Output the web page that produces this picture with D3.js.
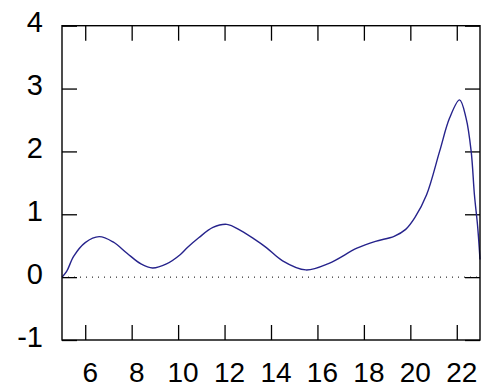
<!DOCTYPE html>
<html>
<head>
<meta charset="utf-8">
<script src="https://cdn.jsdelivr.net/npm/d3@7"></script>
<style>
  body { margin: 0; background: #fff; }
  svg { display: block; }
</style>
</head>
<body>
<div id="chart"></div>
<script>
"use strict";

// curve
var xValues = [5.0, 5.2, 5.5, 6.0, 6.6, 7.2, 7.8, 8.4, 8.9, 9.5, 10.1, 10.4, 10.9, 11.5, 12.1,
               12.7, 13.3, 13.8, 14.5, 15.5, 16.5, 17.7, 18.5, 19.3, 19.8, 20.2, 20.7, 21.26,
               21.69, 22.12, 22.4, 22.62, 22.76, 22.9, 23.0];
var yValues = [0.0, 0.09, 0.33, 0.55, 0.645, 0.56, 0.38, 0.21, 0.145, 0.21, 0.36, 0.47, 0.63, 0.79, 0.84,
               0.74, 0.6, 0.47, 0.26, 0.115, 0.22, 0.46, 0.57, 0.65, 0.76, 0.95, 1.31, 2.0,
               2.53, 2.82, 2.53, 2.0, 1.31, 0.8, 0.28];
var xTicks = [6, 8, 10, 12, 14, 16, 18, 20, 22];
var yTicks = [-1, 0, 1, 2, 3, 4];

var W = 500, H = 392;
var margin = {top: 25.7, right: 20, bottom: 52, left: 62},
    width = W - margin.left - margin.right,
    height = H - margin.top - margin.bottom;

var x = d3.scaleLinear().domain([5, 23]).range([0, width]);
var y = d3.scaleLinear().domain([-1, 4]).range([height, 0]);

var svg = d3.select("#chart").append("svg")
    .attr("width", W)
    .attr("height", H)
  .append("g")
    .attr("transform", "translate(" + margin.left + "," + margin.top + ")");

var font = "'Liberation Sans', Arial, sans-serif";

// dotted zero line
svg.append("line")
    .attr("x1", 0).attr("x2", width)
    .attr("y1", y(0)).attr("y2", y(0))
    .attr("stroke", "#000")
    .attr("stroke-width", 1)
    .attr("stroke-dasharray", "1,5");

// axes, ticks pointing inward
var bottom = svg.append("g")
    .attr("transform", "translate(0," + height + ")")
    .call(d3.axisBottom(x).tickValues(xTicks).tickSize(-15).tickSizeOuter(0).tickFormat(String));
bottom.selectAll(".tick text")
    .attr("y", 42).attr("dy", null).attr("dx", 4.5)
    .attr("font-size", 28).attr("font-family", font).attr("fill", "#000");

svg.append("g")
    .call(d3.axisTop(x).tickValues(xTicks).tickSize(-15).tickSizeOuter(0).tickFormat(""));

var left = svg.append("g")
    .call(d3.axisLeft(y).tickValues(yTicks).tickSize(-15).tickSizeOuter(0).tickFormat(String));
left.selectAll(".tick text")
    .attr("x", -19).attr("y", 6).attr("dy", null)
    .attr("font-size", 29).attr("font-family", font).attr("fill", "#000");

svg.append("g")
    .attr("transform", "translate(" + width + ",0)")
    .call(d3.axisRight(y).tickValues(yTicks).tickSize(-15).tickSizeOuter(0).tickFormat(""));

svg.selectAll(".domain").remove();
svg.selectAll(".tick line").attr("stroke", "#000").attr("stroke-width", 1.3);

// curve
var pts = xValues.map(function(d, i) { return [d, yValues[i]]; });
svg.append("path")
    .datum(pts)
    .attr("fill", "none")
    .attr("stroke", "#26238c")
    .attr("stroke-width", 1.4)
    .attr("d", d3.line()
        .x(function(d) { return x(d[0]); })
        .y(function(d) { return y(d[1]); })
        .curve(d3.curveCatmullRom.alpha(0.5)));

// frame
svg.append("rect")
    .attr("width", width).attr("height", height)
    .attr("fill", "none")
    .attr("stroke", "#000")
    .attr("stroke-width", 1.4);
</script>
</body>
</html>
